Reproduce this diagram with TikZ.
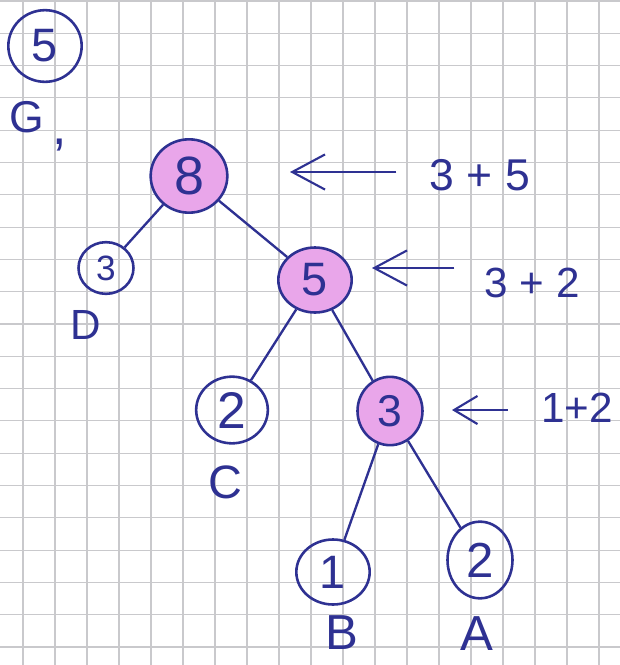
\documentclass[tikz,border=0pt]{standalone}
\usepackage{fontspec}
\setmainfont{Liberation Sans}
\usepackage{tikz}
\usetikzlibrary{arrows.meta,shapes.geometric}
\definecolor{ink}{HTML}{2E3192}
\definecolor{marker}{HTML}{E9A6EA}
\definecolor{paperline}{HTML}{C9C9CC}
\newcommand{\inksize}[1]{\fontsize{#1}{#1}\selectfont}

\begin{document}
\begin{tikzpicture}[x=0.03cm,y=-0.03cm]
\tikzstyle{leaf}=[ellipse,draw=ink,line width=2.2pt,inner sep=0pt,text=ink]
\tikzstyle{sum}=[leaf,fill=marker]
\tikzstyle{word}=[text=ink,inner sep=0pt]
\tikzstyle{edge}=[draw=ink,line width=2pt]
\tikzstyle{sumarrow}=[draw=ink,line width=1.8pt,-{Straight Barb[length=28pt,width=30pt]}]
\useasboundingbox (0,0) rectangle (620,665);
\fill[white] (0,0) rectangle (620,665);
% squared paper
\foreach \k in {0,...,18}
    \draw[paperline,line width=0.9pt] ({23+32*\k},0) -- ({23+32*\k},665);
\foreach \k in {0,...,20}
    \draw[paperline,line width=0.9pt] (0,{1+32.3*\k}) -- (620,{1+32.3*\k});
% stray weight in the corner
\node[leaf,minimum width=2.2cm,minimum height=2.15cm] (lone) at (45,46) {\inksize{40}5};
\node[word] (gee) at (27,117) {\inksize{38}G};
\node[word] (comma) at (60,145) {\inksize{44},};
% tree
\node[sum,minimum width=2.3cm,minimum height=2.2cm] (root) at (189,176) {\inksize{46}8};
\node[leaf,minimum width=1.65cm,minimum height=1.55cm] (d3) at (106,268) {\inksize{30}3};
\node[sum,minimum width=2.2cm,minimum height=1.95cm] (mid) at (315,280) {\inksize{40}5};
\node[leaf,minimum width=2.15cm,minimum height=2cm] (c2) at (232,410) {\inksize{44}2};
\node[sum,minimum width=1.95cm,minimum height=2.05cm] (low) at (390,411) {\inksize{38}3};
\node[leaf,minimum width=2.2cm,minimum height=1.95cm] (b1) at (333,572) {\inksize{40}1};
\node[leaf,minimum width=1.95cm,minimum height=2.3cm] (a2) at (480,560) {\inksize{42}2};
\node[word] (labD) at (86,325) {\inksize{36}D};
\node[word] (labC) at (225,482) {\inksize{40}C};
\node[word] (labB) at (342,633) {\inksize{42}B};
\node[word] (labA) at (477,634) {\inksize{42}A};
\draw[edge] (root) -- (d3);
\draw[edge] (root) -- (mid);
\draw[edge] (mid) -- (c2);
\draw[edge] (mid) -- (low);
\draw[edge] (low) -- (b1);
\draw[edge] (low) -- (a2);
% sums
\node[word] (s8) at (480,175) {\inksize{38}3 + 5};
\node[word] (s5) at (532,283) {\inksize{36}3 + 2};
\node[word] (s3) at (577,408) {\inksize{36}1+2};
\coordinate (t8) at (290,172);
\coordinate (t5) at (372,268);
\coordinate (t3) at (452,410);
\draw[sumarrow,shorten <=1cm] (s8.west |- t8) -- (t8);
\draw[sumarrow,shorten <=0.9cm] (s5.west |- t5) -- (t5);
\draw[sumarrow,shorten <=1cm,-{Straight Barb[length=20pt,width=24pt]}] (s3.west |- t3) -- (t3);
\end{tikzpicture}
\end{document}
